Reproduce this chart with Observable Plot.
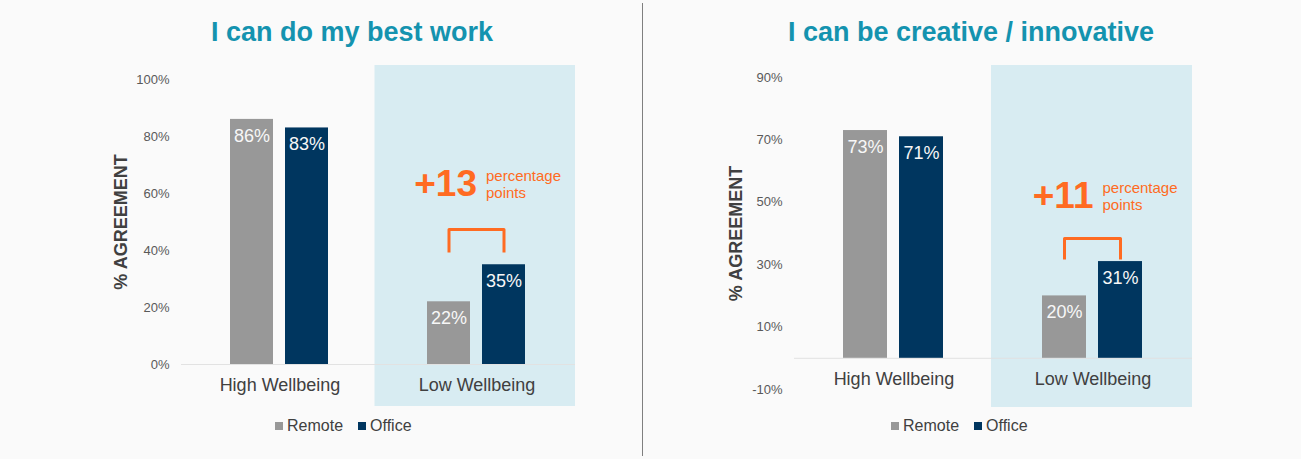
<!DOCTYPE html>
<html><head><meta charset="utf-8">
<script src="https://cdn.jsdelivr.net/npm/d3@7"></script>
<script src="https://cdn.jsdelivr.net/npm/@observablehq/plot@0.6"></script>
<style>
html,body{margin:0;padding:0;background:#fafafa;width:1301px;height:459px;overflow:hidden;font-family:"Liberation Sans",Arial,sans-serif;}
.title{position:absolute;top:19px;font-size:27px;line-height:27px;font-weight:bold;color:#1493af;white-space:nowrap;transform:translateX(-50%);}
.chart{position:absolute;top:50px;}
.legend{position:absolute;top:418px;display:flex;align-items:center;font-size:16px;line-height:16px;color:#404040;}
.legend .item{display:flex;align-items:center;margin-right:15px;}
.legend .sw{width:8px;height:8px;margin-right:4px;}
#divider{position:absolute;left:642px;top:3px;width:1px;height:453px;background:#7f7f7f;}
</style></head><body>
<div id="divider"></div>
<script>
// ---- data ----
const categories = ["High Wellbeing", "Low Wellbeing"];
const series = ["Remote", "Office"];
const seriesColors = ["#989898", "#00365f"];
const titles = ["I can do my best work", "I can be creative / innovative"];
const yLabel = "% AGREEMENT";
const highlightCategory = "Low Wellbeing";
const baseline = 0;

const bestWorkRemote = [0.86, 0.22];
const bestWorkOffice = [0.83, 0.35];
const bestWorkDomain = [0, 1.0];
const bestWorkTicks = [0, 0.2, 0.4, 0.6, 0.8, 1.0];

const creativeRemote = [0.73, 0.20];
const creativeOffice = [0.71, 0.31];
const creativeDomain = [-0.1, 0.9];
const creativeTicks = [-0.1, 0.1, 0.3, 0.5, 0.7, 0.9];

const gapLabels = ["+13", "+11"];
const gapUnit = "percentage\npoints";
const gapLabelY = [0.632, 0.52];
const bracketTop = [0.474, 0.384];
const bracketBottom = [0.393, 0.317];

const orange = "#ff6b22";
const shade = "#d8ecf2";
const pct = d => Math.round(d * 100) + "%";

function makeChart(o) {
  const values = [o.remote, o.office];
  const rows = categories.flatMap((c, i) => series.map((s, j) => ({category: c, series: s, value: values[j][i]})));
  const bracket = [
    {x: series[0], y: o.bBottom}, {x: series[0], y: o.bTop},
    {x: series[1], y: o.bTop}, {x: series[1], y: o.bBottom}
  ];
  return Plot.plot({
    width: o.width, height: 370,
    marginLeft: o.marginLeft, marginRight: o.marginRight,
    marginTop: o.marginTop, marginBottom: o.marginBottom,
    style: {background: "transparent", fontFamily: "Liberation Sans, Arial, sans-serif", fontSize: "13px", color: "#595959", overflow: "visible"},
    fx: {domain: categories, padding: 0, axis: null},
    x: {domain: series, paddingInner: 0.21, paddingOuter: 0.875, axis: null},
    y: {domain: o.domain, ticks: o.ticks, tickFormat: pct, tickSize: 0, tickPadding: 12, label: null},
    color: {domain: series, range: seriesColors},
    marks: [
      Plot.rect([highlightCategory], {fx: d => d, fill: shade, insetTop: o.insetTop, insetBottom: o.insetBottom, insetLeft: o.insetLeft}),
      Plot.ruleY([baseline], {stroke: "#e2e2e2", strokeWidth: 1}),
      Plot.barY(rows, {fx: "category", x: "series", y: "value", fill: "series"}),
      Plot.text(rows, {fx: "category", x: "series", y: "value", text: d => pct(d.value), dy: 16.5, fill: "#f7f7f7", fontSize: 18, lineAnchor: "middle"}),
      Plot.text(categories, {fx: d => d, y: () => baseline, text: d => d, dy: 21, fontSize: 18, fill: "#404040", lineAnchor: "middle"}),
      Plot.text([yLabel], {fx: () => categories[0], frameAnchor: "left", textAnchor: "middle", lineAnchor: "middle", rotate: -90, dx: o.labelDx, fontSize: 18, fontWeight: "bold", fill: "#404040"}),
      Plot.line(bracket, {fx: () => highlightCategory, x: "x", y: "y", stroke: orange, strokeWidth: 3, strokeLinejoin: "round", strokeLinecap: "butt"}),
      Plot.text([o.gapLabel], {fx: () => highlightCategory, x: () => series[1], y: () => o.labelY, textAnchor: "end", dx: -27, fontSize: 37, fontWeight: "bold", fill: orange, lineAnchor: "middle"}),
      Plot.text([gapUnit], {fx: () => highlightCategory, x: () => series[1], y: () => o.labelY, textAnchor: "start", dx: -18, fontSize: 15, lineHeight: 1.1, fill: orange, lineAnchor: "middle"})
    ]
  });
}

function addPanel(left, titleX, chart, legendX, title) {
  const t = document.createElement("div");
  t.className = "title"; t.style.left = titleX + "px"; t.textContent = title;
  document.body.appendChild(t);
  const c = document.createElement("div");
  c.className = "chart"; c.style.left = left + "px";
  c.appendChild(chart);
  document.body.appendChild(c);
  const lg = document.createElement("div");
  lg.className = "legend"; lg.style.left = legendX + "px";
  series.forEach((s, i) => {
    const it = document.createElement("div"); it.className = "item";
    const sw = document.createElement("div"); sw.className = "sw"; sw.style.background = seriesColors[i];
    const tx = document.createElement("span"); tx.textContent = s;
    it.appendChild(sw); it.appendChild(tx); lg.appendChild(it);
  });
  document.body.appendChild(lg);
}

addPanel(0, 352, makeChart({
  remote: bestWorkRemote, office: bestWorkOffice, domain: bestWorkDomain, ticks: bestWorkTicks,
  gapLabel: gapLabels[0], labelY: gapLabelY[0], bTop: bracketTop[0], bBottom: bracketBottom[0],
  width: 646, marginLeft: 180, marginRight: 71, marginTop: 29, marginBottom: 56,
  insetTop: -14, insetBottom: -42, insetLeft: -3.5, labelDx: -60
}), 275, titles[0]);

addPanel(646, 971, makeChart({
  remote: creativeRemote, office: creativeOffice, domain: creativeDomain, ticks: creativeTicks,
  gapLabel: gapLabels[1], labelY: gapLabelY[1], bTop: bracketTop[1], bBottom: bracketBottom[1],
  width: 655, marginLeft: 148, marginRight: 109, marginTop: 27, marginBottom: 31,
  insetTop: -12, insetBottom: -18, insetLeft: -2, labelDx: -58
}), 891, titles[1]);
</script>
</body></html>
